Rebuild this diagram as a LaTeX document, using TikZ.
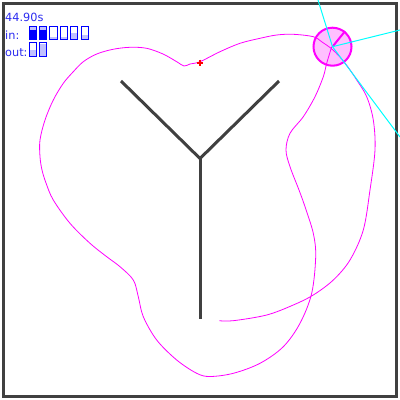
\documentclass[tikz,border=0pt]{standalone}
\usepackage{fontspec}
\setmainfont{DejaVu Sans}
\usetikzlibrary{positioning, calc}
\definecolor{wallgray}{HTML}{404040}
\definecolor{hudblue}{HTML}{2A2AF0}
\definecolor{robotpink}{HTML}{FFC0FF}
\definecolor{barlight}{HTML}{C0C0FF}
\definecolor{barblue}{HTML}{0000FF}
\definecolor{trailpink}{HTML}{FF00FF}
\definecolor{raycyan}{HTML}{00FFFF}
\definecolor{goalred}{HTML}{FF0000}

\begin{document}
\begin{tikzpicture}[
    x=1pt, y=-1pt,
    frame/.style={draw=wallgray, line width=3pt},
    wall/.style={draw=wallgray, line width=3pt},
    hud/.style={anchor=base west, inner sep=0pt, text=hudblue, font=\fontsize{11.3}{13}\selectfont},
    barbox/.style={draw=barblue, line width=1pt},
    robot/.style={circle, draw=trailpink, fill=robotpink, line width=2pt, minimum size=38pt, inner sep=0pt},
    heading/.style={draw=trailpink, line width=2pt},
    ray/.style={draw=raycyan, line width=1pt},
    trail/.style={draw=trailpink, line width=0.8pt},
    goal/.style={draw=goalred, line width=1.5pt}
]
\useasboundingbox (0,0) rectangle (400,400);
\draw[frame] (3.5,3.5) rectangle (396.5,396.5);

% walls
\coordinate (fork) at (200,158.5);
\coordinate (armL) at (121,81);
\coordinate (armR) at (279,81);
\coordinate (stem) at (200,318.5);
\draw[wall] (armL) -- (fork) -- (armR);
\draw[wall] (fork) -- (stem);

% status text
\node[hud] (clock) at (5,21.5) {44.90s};
\node[hud] (inlabel) at (5,39) {in:};
\node[hud] (outlabel) at (5,56) {out:};

% input and output levels
\foreach \bx/\lt/\dk in {29/0.9/0.72, 39.4/0.9/0.72, 49.8/0.15/0, 60.2/0.2/0, 70.6/0.5/0, 81/0.3/0} {
  \fill[barlight] (\bx,39.3) rectangle ++(7.3,-13.3*\lt);
  \fill[barblue] (\bx,39.3) rectangle ++(7.3,-13.3*\dk);
  \draw[barbox] (\bx,39.3) rectangle ++(7.3,-13.3);
}
\foreach \bx/\lt in {29/0.5, 39.4/0.9} {
  \fill[barlight] (\bx,56.3) rectangle ++(7.3,-13.6*\lt);
  \draw[barbox] (\bx,56.3) rectangle ++(7.3,-13.6);
}

% robot
\node[robot] (robot) at (332.5,46.7) {};

% path so far
\draw[trail] plot[smooth, tension=0.55] coordinates {
  (219.3,320.7) (233.3,320.7) (266.7,315) (293.3,305) (313.3,295) (333.3,280)
  (350,260) (363.3,230) (370,190) (375,150) (373.3,120) (366.7,96.7) (356.7,80)
  (345,63) (333,50) (322,42) (313.3,36.7) (293.3,34.3) (276.7,35) (260,38.3)
  (240,43.3) (220,51.7) (200,61.7) (190,64) (184,66) (176.7,61.7) (163,54)
  (146.7,48.3) (130,47.3) (113,49.3) (96.7,54) (83.3,61.7) (73.3,71.7)
  (63.3,83.3) (53.3,100) (45,120) (40,140) (40,156.7) (42,170) (46,183)
  (53.3,200) (70,223.3) (90,243.3) (106.7,256.7) (120,266.7) (133.3,280)
  (138.3,296.7) (143.3,316.7) (156.7,340) (176.7,360) (196.7,373.3) (210,376.5)
  (233.3,373.3) (260,363.3) (283.3,346.7) (300,323.3) (311.7,293.3) (315.7,256.7)
  (313.3,233.3) (305,206.7) (299,190) (290,166.7) (286,150) (290,133.3)
  (303.3,116.7) (315,96.7) (323.3,76.7) (326.7,63.3) (331.7,46.7)};

% heading and sensor rays
\draw[heading] (robot.center) -- (robot.51);
\coordinate (rayA) at (318,0);
\coordinate (rayB) at (400,30);
\coordinate (rayC) at (400,137);
\draw[ray] (robot.center) -- (rayA);
\draw[ray] (robot.center) -- (rayB);
\draw[ray] (robot.center) -- (rayC);

% goal marker
\coordinate (target) at (200,63);
\draw[goal] ($(target)+(-3.3,0)$) -- ($(target)+(3.3,0)$);
\draw[goal] ($(target)+(0,-3.3)$) -- ($(target)+(0,3.3)$);
\end{tikzpicture}
\end{document}
